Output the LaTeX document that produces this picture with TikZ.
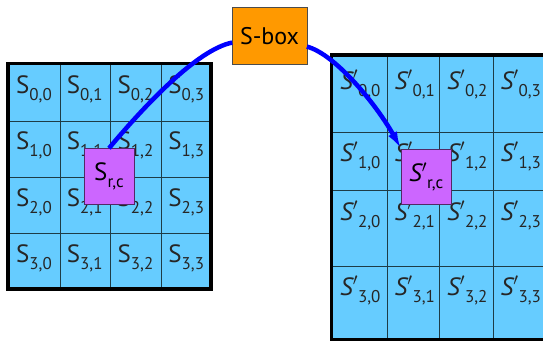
\documentclass[tikz,border=0pt]{standalone}
\usepackage{fontspec}
\setmainfont{PT Sans}
\usetikzlibrary{arrows.meta}
\definecolor{cellblue}{RGB}{102,204,255}
\definecolor{boxmag}{RGB}{204,102,255}
\definecolor{boxorange}{RGB}{255,153,0}
\definecolor{gridline}{RGB}{30,60,70}
\newcommand{\slab}[2]{{\fontsize{25}{25}\selectfont{#1}\raisebox{-7pt}{\fontsize{17}{17}\selectfont #2}}}
\tikzset{
  cellname/.style={anchor=base west, inner sep=0pt, text=black!85},
  movebox/.style={draw=black!60!boxmag, fill=boxmag, minimum width=50.5pt, minimum height=55.7pt, inner sep=0pt},
  flow/.style={blue, line width=4.5pt}
}

\begin{document}
\begin{tikzpicture}[x=1pt,y=-1pt]
\clip (0,0) rectangle (543,341);
% left state array
\fill[cellblue] (8,63.3) rectangle (211,289);
\foreach \x in {60,110,160.7} {
\draw[gridline] (\x,63.3)--(\x,289);
}
\foreach \y in {120.7,176.7,232.7} {
\draw[gridline] (8,\y)--(211,\y);
}
\draw[black, line width=3.5pt] (8,63.3) rectangle (211,289);
\foreach \r in {0,...,3} {
\foreach \c in {0,...,3} {
\node[cellname] (s\r\c) at ({16+\c*50.75},{93.5+\r*56.4}) {\slab{S}{\r,\c}};
}
}
% right state array
\fill[cellblue] (331.7,55) rectangle (548,339.3);
\foreach \x in {386.7,439.3,492.7} {
\draw[gridline] (\x,55)--(\x,339.3);
}
\foreach \y in {131.7,190,266} {
\draw[gridline] (331.7,\y)--(548,\y);
}
\draw[black, line width=3.5pt] (331.7,55) rectangle (548,339.3);
\foreach \r/\yr in {0/89,1/161,2/220,3/295} {
\foreach \c/\xc in {0/340,1/394.5,2/447,3/500.5} {
\node[cellname] (t\r\c) at (\xc,\yr) {\slab{\itshape S$'$}{\r,\c}};
}
}
% substitution of one byte
\node[movebox] (src) at (109,176.3) {\slab{S}{r,c}};
\node[movebox] (dst) at (426.3,176.6) {\slab{\itshape S$'$}{r,c}};
\node[draw=black!70, fill=boxorange, minimum width=74.4pt, minimum height=56.7pt, inner sep=0pt, font=\fontsize{24}{24}\selectfont] (sbox) at (269.5,35.6) {S-box};
\draw[flow] (src.north) .. controls +(35,-42) and +(-35,7) .. ([yshift=-7pt]sbox.west);
\draw[flow, -{Latex[length=17pt,width=10pt]}] ([yshift=-11pt]sbox.east) .. controls +(30,8) and +(-22,-40) .. (dst.north west);
\end{tikzpicture}
\end{document}
